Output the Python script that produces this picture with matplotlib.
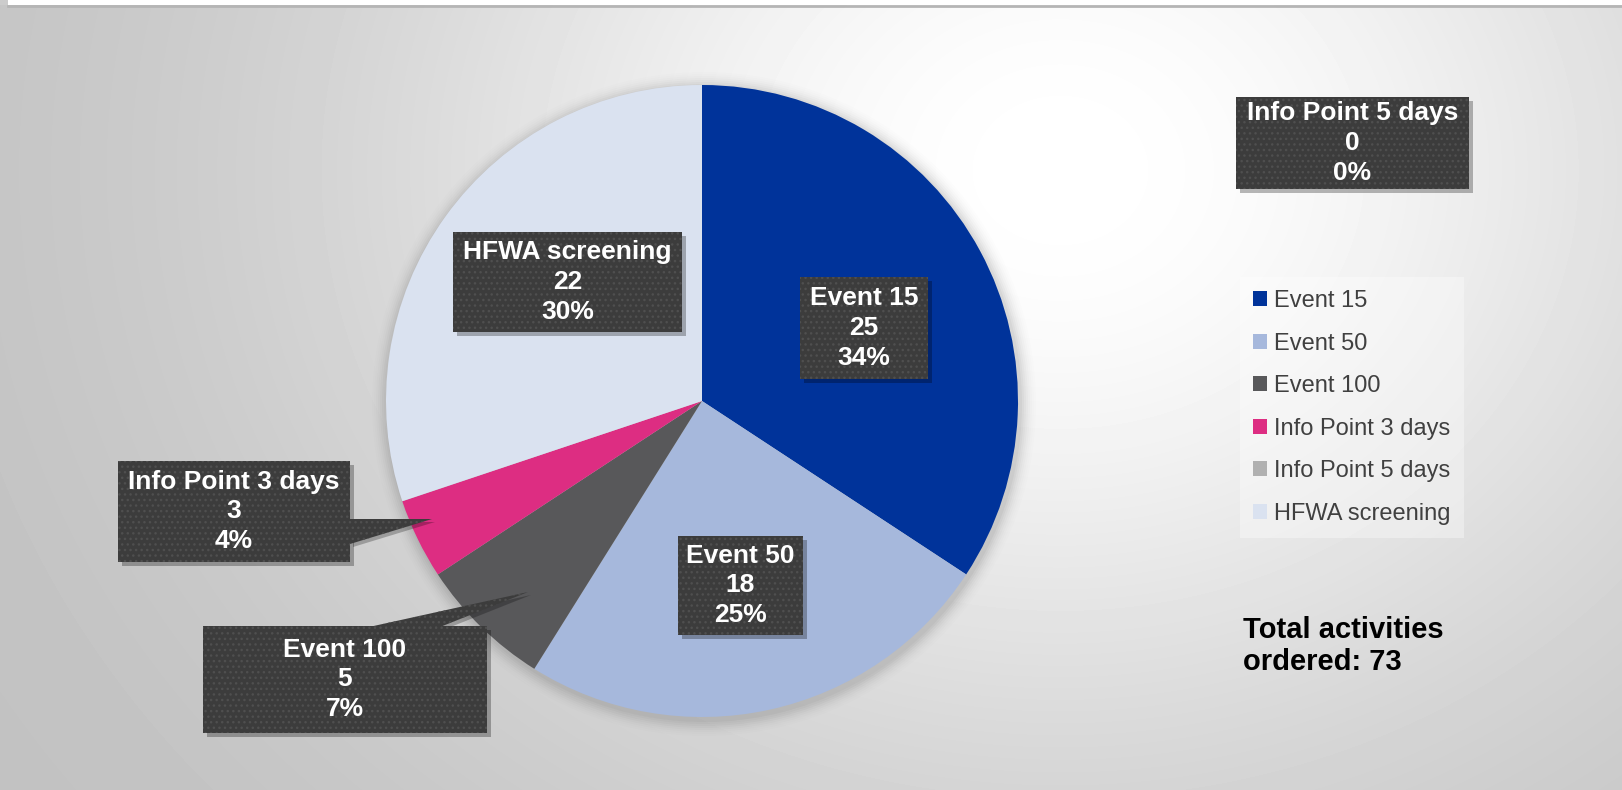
import numpy as np
import matplotlib
matplotlib.use("Agg")
import matplotlib.pyplot as plt
from matplotlib.patches import Rectangle, Polygon, Circle

plt.rcParams['font.family'] = ['Liberation Sans', 'DejaVu Sans']

# data
categories = ["Event 15", "Event 50", "Event 100", "Info Point 3 days",
              "Info Point 5 days", "HFWA screening"]
counts = [25, 18, 5, 3, 0, 22]
colors = ["#00339A", "#A6B8DC", "#58585A", "#DD2D82", "#B0B0B0", "#DAE2F0"]
total = sum(counts)

W, H = 1622, 790
fig = plt.figure(figsize=(W / 100, H / 100), dpi=100)
ax = fig.add_axes([0, 0, 1, 1])


def Y(py):
    # pixel row (from top) -> data y
    return H - py


# background: soft radial gradient, bright near upper right
xx, yy = np.meshgrid(np.arange(W), np.arange(H))
d = np.sqrt((xx - 1060) ** 2 + ((yy - 170) / 0.85) ** 2)
grad = 0.75 + 0.25 * np.exp(-(d / 700.0) ** 2)
grad[:5, :] = 1.0
grad[:, :8] = np.minimum(grad[:, :8], 0.80)
ax.imshow(grad, extent=(0, W, 0, H), origin='upper', cmap='gray',
          vmin=0, vmax=1, aspect='auto', zorder=0, interpolation='bilinear')
ax.plot([8, W], [Y(6), Y(6)], color="#b5b5b5", lw=2, zorder=1)

# pie
cx, cy, R = 702, Y(401), 316
for k, a in zip(range(1, 9), np.linspace(0.05, 0.01, 8)):
    ax.add_patch(Circle((cx + 2, cy - 3), R + k * 2, color='black', alpha=a * 0.6,
                        lw=0, zorder=1.5))
wedges, _ = ax.pie(counts, colors=colors, startangle=90, counterclock=False,
                   center=(cx, cy), radius=R, wedgeprops=dict(linewidth=0))
for w in wedges:
    w.set_zorder(2)

# data label boxes (left, top, right, bottom in pixels)
boxes = {
    "Event 15": (800, 277, 928, 379),
    "Event 50": (678, 536, 803, 635),
    "Event 100": (203, 626, 487, 733),
    "Info Point 3 days": (118, 461, 350, 562),
    "Info Point 5 days": (1236, 97, 1469, 189),
    "HFWA screening": (453, 232, 682, 332),
}
pointers = {
    "Info Point 3 days": [(350, 519), (432, 519), (350, 544)],
    "Event 100": [(369, 627), (440, 627), (528, 592)],
}

box_fc = "#3C3C3C"
for name, n in zip(categories, counts):
    l, t, r, b = boxes[name]
    if name in pointers:
        pts = [(px + 3, Y(py) - 3) for px, py in pointers[name]]
        ax.add_patch(Polygon(pts, closed=True, fc='black', alpha=0.25, lw=0, zorder=3))
    ax.add_patch(Rectangle((l + 4, Y(b) - 4), r - l, b - t, fc='black', alpha=0.28,
                           lw=0, zorder=3))
    ax.add_patch(Rectangle((l, Y(b)), r - l, b - t, fc=box_fc, lw=0, zorder=4))
    ax.add_patch(Rectangle((l, Y(b)), r - l, b - t, fc='none', ec='#4f4f4f',
                           hatch='...', lw=0, zorder=4.1))
    if name in pointers:
        pts = [(px, Y(py)) for px, py in pointers[name]]
        ax.add_patch(Polygon(pts, closed=True, fc=box_fc, lw=0, zorder=4))
        ax.add_patch(Polygon(pts, closed=True, fc='none', ec='#4f4f4f', hatch='...',
                             lw=0, zorder=4.1))
    pct = round(100 * n / total)
    ax.text((l + r) / 2, Y((t + b) / 2), f"{name}\n{n}\n{pct}%", ha='center',
            va='center', color='white', fontsize=19, fontweight='bold',
            linespacing=1.3, zorder=5)

# legend
leg = ax.legend(wedges, categories, loc='upper left', bbox_to_anchor=(1240, Y(277)),
                bbox_transform=ax.transData, borderaxespad=0, frameon=True,
                fancybox=False, fontsize=17, handlelength=0.6, handleheight=0.6,
                handletextpad=0.3, labelspacing=0.87, borderpad=0.55,
                labelcolor='#404040')
leg.get_frame().set_facecolor('white')
leg.get_frame().set_alpha(0.35)
leg.get_frame().set_linewidth(0)

ax.text(1243, Y(646), f"Total activities\nordered: {total}", ha='left', va='center',
        fontsize=21, fontweight='bold', color='black', linespacing=1.2, zorder=5)

ax.set_xlim(0, W)
ax.set_ylim(0, H)
ax.set_aspect('auto')
ax.axis('off')

fig.savefig("out.png", dpi=100)
